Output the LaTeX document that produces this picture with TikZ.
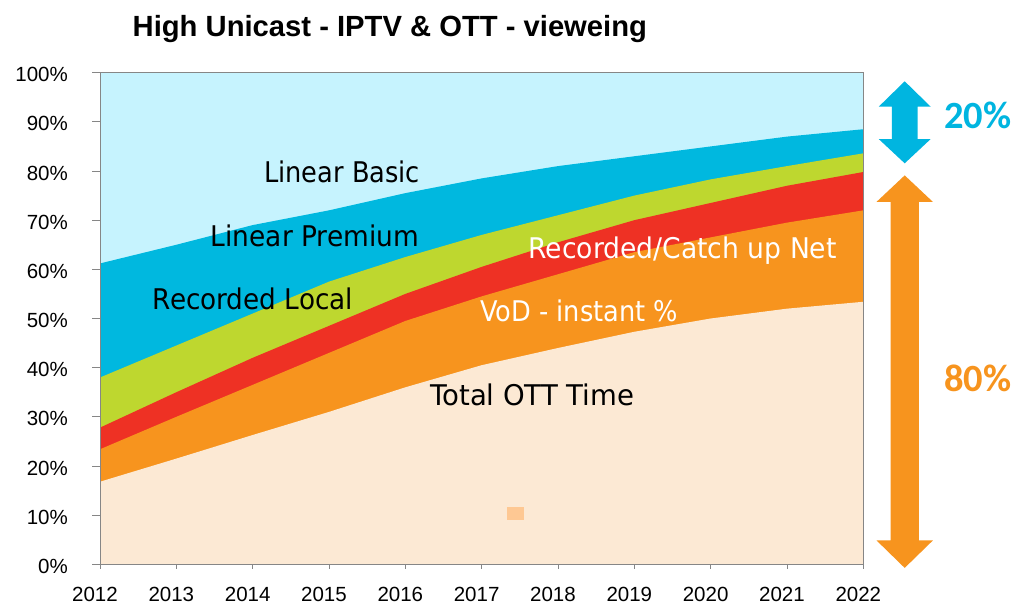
\documentclass[tikz,border=0pt]{standalone}
\usepackage{graphicx}
\usepackage{fontspec}
\setmainfont{Liberation Sans}
\newfontfamily\bandfont[FakeStretch=0.9]{DejaVu Sans}
\newfontfamily\bigfont{Carlito}

\definecolor{skyfill}{HTML}{C6F3FE}
\definecolor{basicfill}{HTML}{00B8DF}
\definecolor{premfill}{HTML}{BED72F}
\definecolor{recfill}{HTML}{EE3124}
\definecolor{vodfill}{HTML}{F7941E}
\definecolor{ottfill}{HTML}{FCE9D4}
\definecolor{markfill}{HTML}{FEC893}
\definecolor{axisgray}{HTML}{868686}
\definecolor{arrowblue}{HTML}{00B5E0}
\definecolor{arroworange}{HTML}{F7941E}

\tikzset{
  axisline/.style={draw=axisgray, line width=0.9pt},
  ticklabel/.style={inner sep=0pt, font=\fontsize{20.5}{22}\selectfont},
  bandlabel/.style={inner sep=0pt, anchor=base west, font=\bandfont\fontsize{28.5}{30}\selectfont},
  sharelabel/.style={inner sep=0pt, anchor=west, font=\bigfont\bfseries\fontsize{38.5}{40}\selectfont},
}

\begin{document}
\begin{tikzpicture}[x=1pt,y=-1pt]
\useasboundingbox (0,0) rectangle (1013,605);
\fill[white] (0,0) rectangle (1013,605);

% title
\node[inner sep=0pt, anchor=base west, font=\bfseries\fontsize{29.2}{31}\selectfont]
  (title) at (132.5,36) {High Unicast - IPTV \& OTT - vieweing};

% stacked area chart: x in years after 2012, y in percent
\begin{scope}[shift={(100,564.3)}, x=76.33pt, y=4.916pt]
  \fill[skyfill] (0,0) rectangle (10,100);
  \fill[basicfill] (0,0) -- (0,61.2) -- (1,65) -- (2,69) -- (3,72) -- (4,75.5) -- (5,78.5)
    -- (6,81) -- (7,83) -- (8,85) -- (9,87) -- (10,88.5) -- (10,0) -- cycle;
  \fill[premfill] (0,0) -- (0,38) -- (1,44.5) -- (2,51) -- (3,57.5) -- (4,62.5) -- (5,67)
    -- (6,71) -- (7,75) -- (8,78.3) -- (9,81) -- (10,83.6) -- (10,0) -- cycle;
  \fill[recfill] (0,0) -- (0,27.8) -- (1,35) -- (2,42) -- (3,48.5) -- (4,55) -- (5,60.5)
    -- (6,65.5) -- (7,70) -- (8,73.5) -- (9,77) -- (10,79.8) -- (10,0) -- cycle;
  \fill[vodfill] (0,0) -- (0,23.4) -- (1,30) -- (2,36.5) -- (3,43) -- (4,49.5) -- (5,54.5)
    -- (6,59) -- (7,63.5) -- (8,66.5) -- (9,69.5) -- (10,72) -- (10,0) -- cycle;
  \fill[ottfill] (0,0) -- (0,16.8) -- (1,21.5) -- (2,26.3) -- (3,31) -- (4,36) -- (5,40.5)
    -- (6,44) -- (7,47.3) -- (8,50) -- (9,52) -- (10,53.4) -- (10,0) -- cycle;

  % plot frame and ticks
  \draw[axisline] (0,0) rectangle (10,100);
  \foreach \p in {0,10,...,100} {
    \draw[axisline] (0,\p) -- ++(-8.3pt,0pt);
    \node[ticklabel, anchor=east] (ylab\p) at ([xshift=-32pt, yshift=-2pt]0,\p) {\p\%};
  }
  \foreach \i [evaluate=\i as \yr using {int(2012+\i)}] in {0,...,10} {
    \draw[axisline] (\i,0) -- ++(0pt,-5pt);
    \node[ticklabel, anchor=base] (xlab\i) at ([xshift=-5pt, yshift=-37.2pt]\i,0) {\yr};
  }
\end{scope}

% small marker in the lowest band
\fill[markfill] (507,507) rectangle (523.7,519.7);

% band labels
\node[bandlabel] (lbasic) at (264,182.3) {Linear Basic};
\node[bandlabel] (lprem) at (210.7,246) {\scalebox{1.03}[1]{Linear Premium}};
\node[bandlabel] (rlocal) at (152.7,309.3) {\scalebox{1.024}[1]{Recorded Local}};
\node[bandlabel, text=white] (rnet) at (528.3,258.3) {\scalebox{1.037}[1]{Recorded/Catch up Net}};
\node[bandlabel, text=white] (vod) at (480,321.7) {VoD - instant \%};
\node[bandlabel] (ott) at (430,405) {\scalebox{1.074}[1]{Total OTT Time}};

% share arrows
\fill[arrowblue] (904.7,81.3) -- (930.5,106.5) -- (917.6,106.5) -- (917.6,139.2)
  -- (930.5,139.2) -- (904.7,163.3) -- (878.9,139.2) -- (891.8,139.2) -- (891.8,106.5)
  -- (878.9,106.5) -- cycle;
\fill[arroworange] (904.7,175.4) -- (932.9,201.9) -- (918.8,201.9) -- (918.8,540.4)
  -- (932.9,540.4) -- (904.7,567.9) -- (876.5,540.4) -- (890.6,540.4) -- (890.6,201.9)
  -- (876.5,201.9) -- cycle;

\node[sharelabel, text=arrowblue] (top) at (944,115.5) {20\%};
\node[sharelabel, text=arroworange] (bottom) at (944,378.5) {80\%};
\end{tikzpicture}
\end{document}
